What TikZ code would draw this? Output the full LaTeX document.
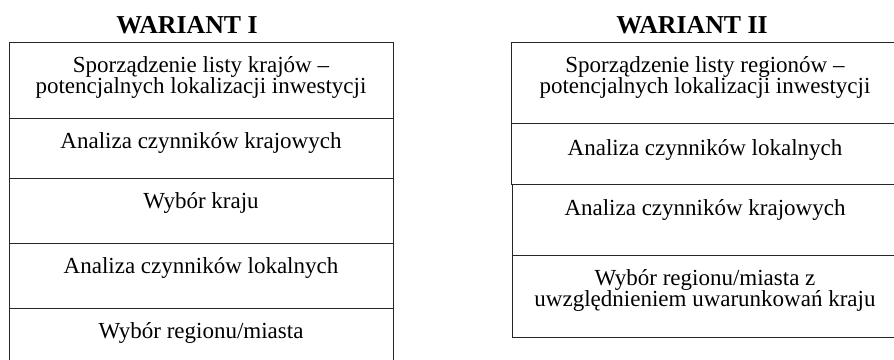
\documentclass[tikz,border=0pt]{standalone}
\usepackage{fontspec}
\setmainfont{Liberation Serif}
\begin{document}
\begin{tikzpicture}[x=1pt,y=-1pt,
  box/.style={draw=black!85, line width=0.9pt, rectangle, inner sep=0pt, anchor=north west},
  txt/.style={inner sep=0pt, anchor=base, font=\fontsize{23}{21.5}\selectfont},
  ttl/.style={inner sep=0pt, anchor=base, font=\fontsize{25.8}{28}\selectfont\bfseries}]
\useasboundingbox (0,0) rectangle (894,359);
% titles
\node[ttl] (tA) at (187,33) {WARIANT I};
\node[ttl] (tB) at (692,33) {WARIANT II};
% left column boxes
\node[box, minimum width=384pt, minimum height=75.5pt] (a1) at (9,42) {};
\node[box, minimum width=384pt, minimum height=60.5pt] (a2) at (9,117.5) {};
\node[box, minimum width=384pt, minimum height=65pt] (a3) at (9,178) {};
\node[box, minimum width=384pt, minimum height=65pt] (a4) at (9,243) {};
\node[box, minimum width=384pt, minimum height=70pt] (a5) at (9,308) {};
% left column texts
\node[txt] (a1t1) at (201,72) {Sporządzenie listy krajów –};
\node[txt] (a1t2) at (201,93.5) {potencjalnych lokalizacji inwestycji};
\node[txt] (a2t) at (201,148) {Analiza czynników krajowych};
\node[txt] (a3t) at (201,208) {Wybór kraju};
\node[txt] (a4t) at (201,273) {Analiza czynników lokalnych};
\node[txt] (a5t) at (201,338) {Wybór regionu/miasta};
% right column boxes
\node[box, minimum width=386pt, minimum height=81pt] (b1) at (511,42) {};
\node[box, minimum width=386pt, minimum height=61pt] (b2) at (511,123) {};
\node[box, minimum width=386pt, minimum height=71pt] (b3) at (511.5,184) {};
\node[box, minimum width=386pt, minimum height=82pt] (b4) at (511.5,255) {};
% right column texts
\node[txt] (b1t1) at (705,72) {Sporządzenie listy regionów –};
\node[txt] (b1t2) at (705,93.5) {potencjalnych lokalizacji inwestycji};
\node[txt] (b2t) at (705,155) {Analiza czynników lokalnych};
\node[txt] (b3t) at (705,215) {Analiza czynników krajowych};
\node[txt] (b4t1) at (705,285) {Wybór regionu/miasta z};
\node[txt] (b4t2) at (705,306.5) {uwzględnieniem uwarunkowań kraju};
\end{tikzpicture}
\end{document}
